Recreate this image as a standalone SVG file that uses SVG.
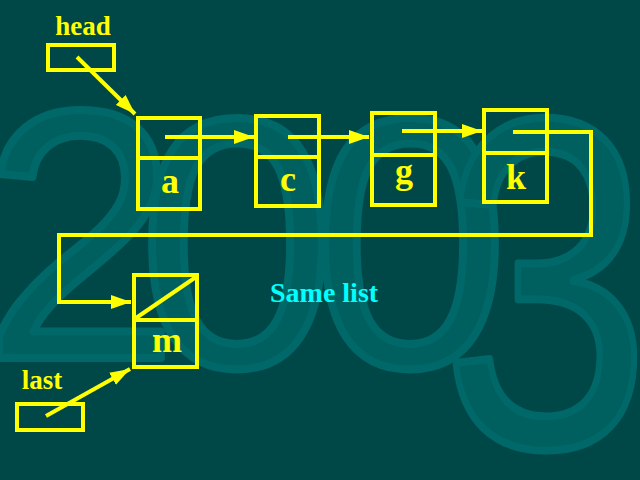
<svg xmlns="http://www.w3.org/2000/svg" width="640" height="480" viewBox="0 0 640 480">
<defs>
<style>
.box{fill:none;stroke:#FFFF00;stroke-width:4;stroke-linejoin:miter}
.ln{fill:none;stroke:#FFFF00;stroke-width:4}
.lbl{font-family:"Liberation Serif","Times New Roman",serif;font-weight:bold;fill:#FFFF00;text-anchor:middle}
.wm{font-family:"Liberation Sans",Arial,sans-serif;font-weight:normal;fill:#005f5f;stroke:#006868;stroke-width:8;stroke-linejoin:round;text-anchor:middle}
</style>
<marker id="ah" markerUnits="userSpaceOnUse" markerWidth="22" markerHeight="14" refX="20" refY="7" orient="auto">
<path d="M0,0 L20,7 L0,14 Z" fill="#FFFF00"/>
</marker>
</defs>
<rect width="640" height="480" fill="#004848"/>
<g id="watermark">
<text class="wm" x="80" y="358" font-size="355">2</text>
<text class="wm" x="237" y="366" font-size="355">0</text>
<text class="wm" x="410" y="366" font-size="355">0</text>
<text class="wm" transform="translate(546,446) scale(0.8,1)" x="0" y="0" font-size="470">3</text>
</g>
<g id="connectors">
<line class="ln" x1="77" y1="57" x2="135" y2="114" marker-end="url(#ah)"/>
<line class="ln" x1="165" y1="137" x2="254" y2="137" marker-end="url(#ah)"/>
<line class="ln" x1="288" y1="137" x2="369" y2="137" marker-end="url(#ah)"/>
<line class="ln" x1="402" y1="131" x2="482" y2="131" marker-end="url(#ah)"/>
<polyline class="ln" points="513,132 591,132 591,235 59,235 59,302 131,302" marker-end="url(#ah)"/>
<line class="ln" x1="46" y1="416" x2="130" y2="369" marker-end="url(#ah)"/>
</g>
<g id="head">
<text class="lbl" x="83" y="35" font-size="27">head</text>
<rect class="box" x="48" y="45" width="66" height="25"/>
</g>
<g id="node-a">
<rect class="box" x="138" y="118" width="62" height="91"/>
<line class="ln" x1="138" y1="158" x2="200" y2="158"/>
<text class="lbl" x="170" y="193" font-size="36">a</text>
</g>
<g id="node-c">
<rect class="box" x="256" y="116" width="63" height="90"/>
<line class="ln" x1="256" y1="157" x2="319" y2="157"/>
<text class="lbl" x="288" y="191" font-size="36">c</text>
</g>
<g id="node-g">
<rect class="box" x="372" y="113" width="63" height="92"/>
<line class="ln" x1="372" y1="155" x2="435" y2="155"/>
<text class="lbl" x="404" y="183" font-size="36">g</text>
</g>
<g id="node-k">
<rect class="box" x="484" y="110" width="63" height="92"/>
<line class="ln" x1="484" y1="153" x2="547" y2="153"/>
<text class="lbl" x="516" y="189" font-size="36">k</text>
</g>
<g id="node-m">
<rect class="box" x="134" y="275" width="63" height="92"/>
<line class="ln" x1="134" y1="320" x2="197" y2="320"/>
<line class="ln" x1="136" y1="318" x2="196" y2="277"/>
<text class="lbl" x="167" y="352" font-size="36">m</text>
</g>
<g id="last">
<text class="lbl" x="42" y="389" font-size="27">last</text>
<rect class="box" x="17" y="404" width="66" height="26"/>
</g>
<g id="caption">
<text x="270" y="302" font-family="'Liberation Serif','Times New Roman',serif" font-weight="bold" font-size="28" fill="#00FFFF">Same list</text>
</g>
</svg>
